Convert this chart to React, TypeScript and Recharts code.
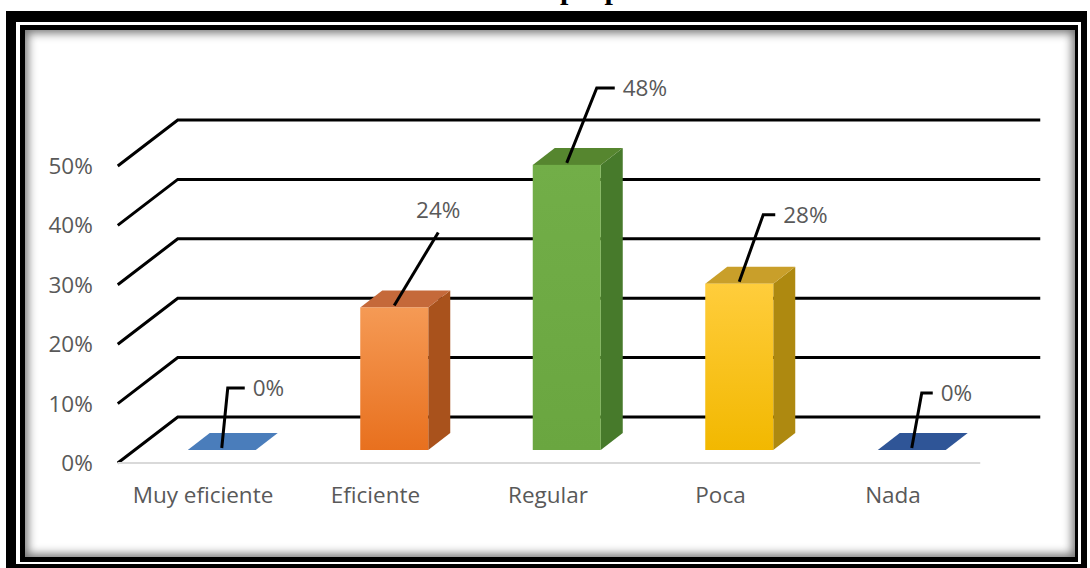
import { BarChart, Bar, XAxis, YAxis, CartesianGrid, LabelList, ReferenceLine } from 'recharts';

const categories = ['Muy eficiente', 'Eficiente', 'Regular', 'Poca', 'Nada'];
const percentages = [0, 0.24, 0.48, 0.28, 0];
const yTicks = [0, 0.1, 0.2, 0.3, 0.4, 0.5];
const title = 'Fuente: Elaboración propia';

// per-bar colours: front gradient top/bottom, top face, side face
const barColors = [
  { front: ['#4a7dbb', '#4274b3'], top: '#3c6aa5', side: '#33598c' },
  { front: ['#f59a55', '#e8701e'], top: '#c5693a', side: '#a9521c' },
  { front: ['#72ae48', '#6aa640'], top: '#56862f', side: '#477a2b' },
  { front: ['#ffcd3c', '#f2b800'], top: '#c99f2a', side: '#ae8910' },
  { front: ['#2f5597', '#2c5192'], top: '#2a4d8c', side: '#243f73' },
];

// leader line placement for the data labels (dx, dy from bar top, hook length)
const leaders = [
  { dx: 6, dy: -62, hook: 17 },
  { dx: 44, dy: -75, hook: 0 },
  { dx: 30, dy: -77, hook: 18 },
  { dx: 24, dy: -69, hook: 12 },
  { dx: 10, dy: -57, hook: 11 },
];

const data = categories.map((name, i) => ({ name, value: percentages[i] }));

const DEPTH_X = 22;
const DEPTH_Y = 17;
const FONT = '"Open Sans", sans-serif';
const FONT_SIZE = 22.5;
const TEXT = '#595959';

function Bar3D(props: any) {
  const { x, y, width, height, index } = props;
  const c = barColors[index];
  if (!height || height < 1) {
    const pts = `${x},${y} ${x + width},${y} ${x + width + DEPTH_X},${y - DEPTH_Y} ${x + DEPTH_X},${y - DEPTH_Y}`;
    return <polygon points={pts} fill={c.front[0]} />;
  }
  const id = `bar-grad-${index}`;
  const top = `${x},${y} ${x + DEPTH_X},${y - DEPTH_Y} ${x + width + DEPTH_X},${y - DEPTH_Y} ${x + width},${y}`;
  const side = `${x + width},${y} ${x + width + DEPTH_X},${y - DEPTH_Y} ${x + width + DEPTH_X},${y + height - DEPTH_Y} ${x + width},${y + height}`;
  return (
    <g>
      <defs>
        <linearGradient id={id} x1="0" y1="0" x2="0" y2="1">
          <stop offset="0%" stopColor={c.front[0]} />
          <stop offset="100%" stopColor={c.front[1]} />
        </linearGradient>
      </defs>
      <polygon points={side} fill={c.side} />
      <polygon points={top} fill={c.top} />
      <rect x={x} y={y} width={width} height={height} fill={`url(#${id})`} />
    </g>
  );
}

function ValueLabel(props: any) {
  const { x, y, width, value, index } = props;
  const l = leaders[index];
  const sx = x + width / 2;
  const sy = y - 2;
  const ex = sx + l.dx;
  const ey = y + l.dy;
  const label = `${Math.round(value * 100)}%`;
  if (l.hook === 0) {
    return (
      <g>
        <line x1={sx} y1={sy} x2={ex} y2={ey} stroke="#000" strokeWidth={3} />
        <text x={ex} y={ey - 14} textAnchor="middle" fontFamily={FONT} fontSize={FONT_SIZE} fill={TEXT}>
          {label}
        </text>
      </g>
    );
  }
  return (
    <g>
      <polyline points={`${sx},${sy} ${ex},${ey} ${ex + l.hook},${ey}`} fill="none" stroke="#000" strokeWidth={3} />
      <text x={ex + l.hook + 8} y={ey + 8} fontFamily={FONT} fontSize={FONT_SIZE} fill={TEXT}>
        {label}
      </text>
    </g>
  );
}

function GridLine(props: any) {
  const { x1, x2, y1, key } = props;
  const pts = `${x1 - 18},${y1 + 13} ${x1 + 42},${y1 - 33} ${x2 + 42},${y1 - 33}`;
  return <polyline key={key} points={pts} fill="none" stroke="#000" strokeWidth={3} />;
}

function FloorLine(props: any) {
  const { x1, x2, y1 } = props;
  return <line x1={x1 - 18} y1={y1 + 13} x2={x2 - 18} y2={y1 + 13} stroke="#d9d9d9" strokeWidth={2} />;
}

function YTick(props: any) {
  const { x, y, payload } = props;
  return (
    <text x={x - 43} y={y + 21} textAnchor="end" fontFamily={FONT} fontSize={FONT_SIZE} fill={TEXT}>
      {`${Math.round(payload.value * 100)}%`}
    </text>
  );
}

function XTick(props: any) {
  const { x, y, payload } = props;
  return (
    <text x={x - 19} y={y + 53} textAnchor="middle" fontFamily={FONT} fontSize={FONT_SIZE} fill={TEXT}>
      {payload.value}
    </text>
  );
}

export default function App() {
  return (
    <div style={{ position: 'absolute', left: 0, top: 0, width: 1090, height: 568, background: '#fff', overflow: 'hidden' }}>
      <div
        style={{
          position: 'absolute',
          left: 290,
          top: -26,
          fontFamily: '"Liberation Serif", serif',
          fontWeight: 'bold',
          fontSize: 30,
          lineHeight: '30px',
          whiteSpace: 'nowrap',
        }}
      >
        {title}
      </div>
      <div style={{ position: 'absolute', left: 6, top: 11, width: 1081, height: 560, background: '#000' }} />
      <div style={{ position: 'absolute', left: 16, top: 22, width: 1065, height: 542, background: '#fff' }} />
      <div style={{ position: 'absolute', left: 20, top: 25, width: 1058, height: 537, background: '#000' }} />
      <div
        style={{
          position: 'absolute',
          left: 25,
          top: 30,
          width: 1050,
          height: 527,
          background: '#fff',
          boxShadow: 'inset 0 0 10px 3px rgba(0,0,0,0.55)',
        }}
      />
      <div style={{ position: 'absolute', left: 0, top: 0 }}>
        <BarChart
          width={1090}
          height={568}
          data={data}
          margin={{ top: 153, right: 91.75, bottom: 58, left: 75.75 }}
          barSize={68}
        >
          <CartesianGrid vertical={false} horizontal={GridLine} />
          <ReferenceLine y={0} shape={FloorLine} />
          <YAxis
            width={60}
            domain={[0, 0.5]}
            ticks={yTicks}
            axisLine={false}
            tickLine={false}
            tickSize={0}
            tickMargin={0}
            tick={YTick}
            interval={0}
          />
          <XAxis
            dataKey="name"
            height={60}
            axisLine={false}
            tickLine={false}
            tickSize={0}
            tickMargin={0}
            tick={XTick}
            interval={0}
          />
          <Bar dataKey="value" shape={Bar3D} isAnimationActive={false}>
            <LabelList dataKey="value" content={ValueLabel} />
          </Bar>
        </BarChart>
      </div>
    </div>
  );
}
